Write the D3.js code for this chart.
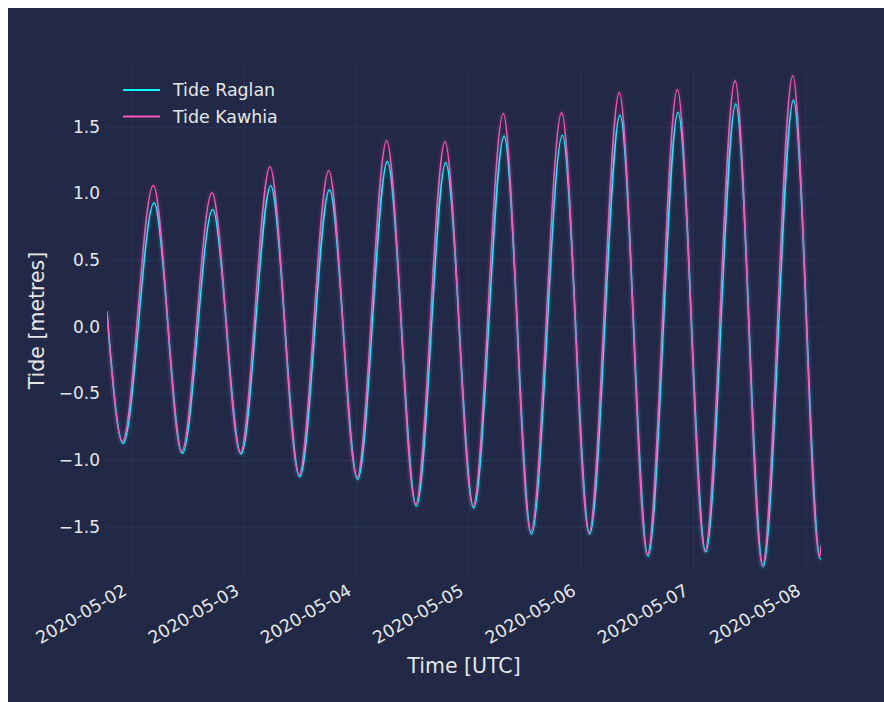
<!DOCTYPE html>
<html>
<head>
<meta charset="utf-8">
<script src="https://cdn.jsdelivr.net/npm/d3@7"></script>
<style>
  body { margin: 0; background: #ffffff; }
  text { font-family: "DejaVu Sans", sans-serif; }
</style>
</head>
<body>
<script>
// tide extrema (UTC)
var kawhiaTimes = ["2020-05-01T18:46", "2020-05-01T22:02", "2020-05-02T04:40", "2020-05-02T10:42", "2020-05-02T17:12",
  "2020-05-02T23:15", "2020-05-03T05:36", "2020-05-03T11:47", "2020-05-03T18:09", "2020-05-04T00:11",
  "2020-05-04T06:32", "2020-05-04T12:43", "2020-05-04T19:00", "2020-05-05T00:58", "2020-05-05T07:28",
  "2020-05-05T13:18", "2020-05-05T19:56", "2020-05-06T01:45", "2020-05-06T08:15", "2020-05-06T14:14",
  "2020-05-06T20:39", "2020-05-07T02:33", "2020-05-07T08:59", "2020-05-07T14:49", "2020-05-07T21:19",
  "2020-05-08T03:03", "2020-05-08T03:21"];
var kawhiaLevels = [0.12, -0.86, 1.06, -0.935, 1.005, -0.945, 1.20, -1.11, 1.17, -1.13, 1.395, -1.33, 1.39,
  -1.345, 1.60, -1.54, 1.605, -1.545, 1.757, -1.71, 1.78, -1.68, 1.845, -1.79, 1.88, -1.73, -1.64];

var raglanTimes = ["2020-05-01T18:46", "2020-05-01T22:12", "2020-05-02T04:49", "2020-05-02T10:52", "2020-05-02T17:21",
  "2020-05-02T23:25", "2020-05-03T05:45", "2020-05-03T11:57", "2020-05-03T18:18", "2020-05-04T00:21",
  "2020-05-04T06:41", "2020-05-04T12:53", "2020-05-04T19:09", "2020-05-05T01:08", "2020-05-05T07:37",
  "2020-05-05T13:28", "2020-05-05T20:05", "2020-05-06T01:55", "2020-05-06T08:24", "2020-05-06T14:24",
  "2020-05-06T20:48", "2020-05-07T02:43", "2020-05-07T09:08", "2020-05-07T14:59", "2020-05-07T21:28",
  "2020-05-08T03:13", "2020-05-08T03:21"];
var raglanLevels = [0.10, -0.875, 0.927, -0.95, 0.88, -0.955, 1.058, -1.125, 1.028, -1.145, 1.24, -1.345, 1.23,
  -1.36, 1.43, -1.555, 1.436, -1.555, 1.586, -1.72, 1.607, -1.69, 1.67, -1.80, 1.70, -1.74, -1.735];

var dayTicks = ["2020-05-02", "2020-05-03", "2020-05-04", "2020-05-05", "2020-05-06", "2020-05-07", "2020-05-08"];
var levelTicks = [-1.5, -1.0, -0.5, 0.0, 0.5, 1.0, 1.5];
var timeRange = ["2020-05-01T18:46", "2020-05-08T03:21"];
var levelRange = [-1.855, 1.948];

var seriesNames = ["Tide Raglan", "Tide Kawhia"];
var seriesColors = ["#08F7FE", "#FE53BB"];

var W = 884, H = 702;
var plotLeft = 107, plotRight = 821, plotTop = 67, plotBottom = 574;
var bg = "#212946", gridColor = "#2A3459", textColor = "#e6e6e6";

var parseTime = d3.utcParse("%Y-%m-%dT%H:%M");
var parseDay = d3.utcParse("%Y-%m-%d");

var series = [
  raglanTimes.map(function (t, i) { return { t: parseTime(t), v: raglanLevels[i] }; }),
  kawhiaTimes.map(function (t, i) { return { t: parseTime(t), v: kawhiaLevels[i] }; })
];

var svg = d3.select("body").append("svg")
  .attr("width", W)
  .attr("height", H);

svg.append("rect")
  .attr("x", 8).attr("y", 8)
  .attr("width", W - 8).attr("height", H - 8)
  .attr("fill", bg);

var x = d3.scaleUtc()
  .domain(timeRange.map(parseTime))
  .range([plotLeft, plotRight]);

var y = d3.scaleLinear()
  .domain(levelRange)
  .range([plotBottom, plotTop]);

// grid
var xGrid = svg.append("g")
  .attr("transform", "translate(0," + plotBottom + ")")
  .call(d3.axisBottom(x).tickValues(dayTicks.map(parseDay)).tickSize(-(plotBottom - plotTop)).tickFormat(""));
xGrid.select(".domain").remove();
xGrid.selectAll("line").attr("stroke", gridColor).attr("stroke-width", 1);

var yGrid = svg.append("g")
  .attr("transform", "translate(" + plotLeft + ",0)")
  .call(d3.axisLeft(y).tickValues(levelTicks).tickSize(-(plotRight - plotLeft)).tickFormat(""));
yGrid.select(".domain").remove();
yGrid.selectAll("line").attr("stroke", gridColor).attr("stroke-width", 1);

// tick labels
var xAxis = svg.append("g")
  .attr("transform", "translate(0," + plotBottom + ")")
  .call(d3.axisBottom(x).tickValues(dayTicks.map(parseDay)).tickSize(0).tickFormat(d3.utcFormat("%Y-%m-%d")));
xAxis.select(".domain").remove();
xAxis.selectAll("text")
  .attr("fill", textColor)
  .attr("font-size", "17.4px")
  .attr("font-family", "DejaVu Sans")
  .attr("text-anchor", "end")
  .attr("dy", null)
  .attr("y", 0)
  .attr("transform", "translate(-4,20) rotate(-30)");

var yAxis = svg.append("g")
  .attr("transform", "translate(" + plotLeft + ",0)")
  .call(d3.axisLeft(y).tickValues(levelTicks).tickSize(0).tickFormat(d3.format(".1f")));
yAxis.select(".domain").remove();
yAxis.selectAll("text")
  .attr("fill", textColor)
  .attr("font-size", "17px")
  .attr("font-family", "DejaVu Sans")
  .attr("x", -7);

svg.append("text")
  .attr("x", (plotLeft + plotRight) / 2)
  .attr("y", 666)
  .attr("text-anchor", "middle")
  .attr("dominant-baseline", "central")
  .attr("fill", textColor)
  .attr("font-size", "20.5px")
  .text("Time [UTC]");

svg.append("text")
  .attr("transform", "translate(37," + ((plotTop + plotBottom) / 2) + ") rotate(-90)")
  .attr("text-anchor", "middle")
  .attr("dominant-baseline", "central")
  .attr("fill", textColor)
  .attr("font-size", "20.5px")
  .text("Tide [metres]");

// lines
svg.append("clipPath").attr("id", "plot")
  .append("rect")
  .attr("x", plotLeft).attr("y", plotTop)
  .attr("width", plotRight - plotLeft).attr("height", plotBottom - plotTop);

var line = d3.line()
  .x(function (d) { return x(d.t); })
  .y(function (d) { return y(d.v); })
  .curve(d3.curveMonotoneX);

var plot = svg.append("g").attr("clip-path", "url(#plot)");

series.forEach(function (s, k) {
  for (var i = 1; i <= 6; i++) {
    plot.append("path")
      .datum(s)
      .attr("d", line)
      .attr("fill", "none")
      .attr("stroke", seriesColors[k])
      .attr("stroke-width", 1.5 + 1.1 * i)
      .attr("stroke-opacity", 0.025);
  }
});
series.forEach(function (s, k) {
  plot.append("path")
    .datum(s)
    .attr("d", line)
    .attr("fill", "none")
    .attr("stroke", seriesColors[k])
    .attr("stroke-width", 1.5);
});

// legend
var legend = svg.append("g");
seriesNames.forEach(function (name, i) {
  var ly = 90 + i * 26.5;
  legend.append("line")
    .attr("x1", 123).attr("x2", 160)
    .attr("y1", ly).attr("y2", ly)
    .attr("stroke", seriesColors[i])
    .attr("stroke-width", 1.8);
  legend.append("text")
    .attr("x", 173).attr("y", ly)
    .attr("dominant-baseline", "central")
    .attr("fill", textColor)
    .attr("font-size", "17.4px")
    .text(name);
});
</script>
</body>
</html>
